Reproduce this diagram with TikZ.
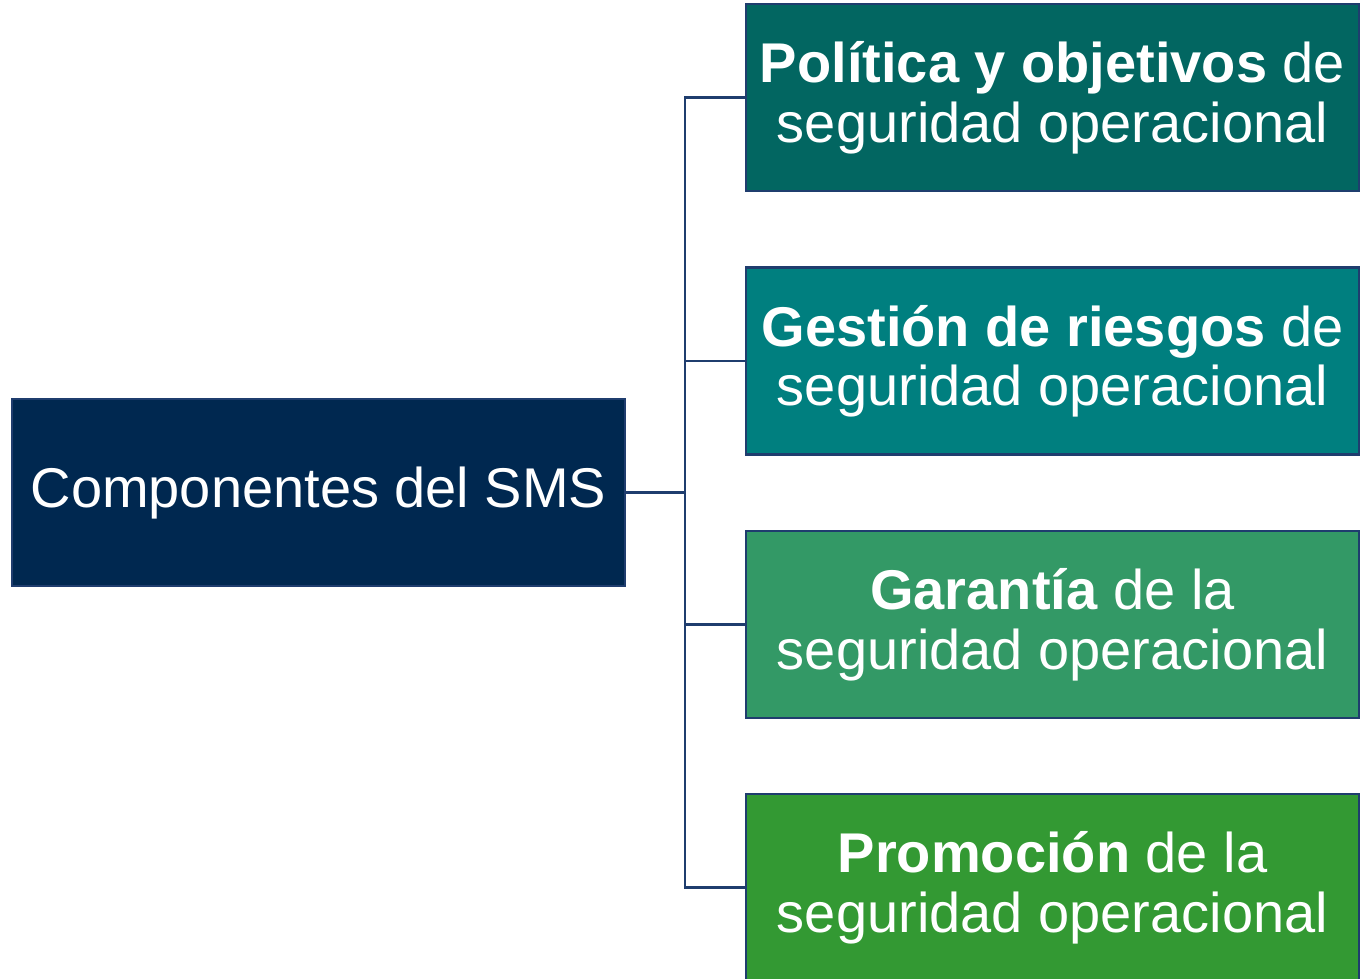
\documentclass[tikz,border=0pt]{standalone}
\usepackage{fontspec}
\setmainfont{Liberation Sans}
\definecolor{navy}{HTML}{002850}
\definecolor{edge}{HTML}{1F3D6E}
\definecolor{cA}{HTML}{026661}
\definecolor{cB}{HTML}{007F7F}
\definecolor{cC}{HTML}{339966}
\definecolor{cD}{HTML}{339933}
\newcommand\boxtext[1]{\raisebox{-2.4pt}[\height][\depth]{\begin{tabular}{@{}c@{}}#1\end{tabular}}}
\tikzset{
  box/.style={draw=edge, line width=2.2pt, text=white, minimum width=459.75pt, minimum height=140.25pt,
    inner sep=0pt, align=center, font=\fontsize{42}{44.5}\selectfont},
  conn/.style={draw=edge, line width=2.2pt}
}
\begin{document}
\begin{tikzpicture}[x=0.75pt,y=-0.75pt]
\useasboundingbox (0,0) rectangle (1369,978);
\clip (0,0) rectangle (1369,978);
\node[box, fill=navy] (L) at (318.5,492.5) {\boxtext{Componentes del SMS}};
\node[box, fill=cA] (B1) at (1052.5,97.5) {\boxtext{\textbf{Política y objetivos} de\\seguridad operacional}};
\node[box, fill=cB] (B2) at (1052.5,361) {\boxtext{\textbf{Gestión de riesgos} de\\seguridad operacional}};
\node[box, fill=cC] (B3) at (1052.5,624.5) {\boxtext{\textbf{Garantía} de la\\seguridad operacional}};
\node[box, fill=cD] (B4) at (1052.5,887.5) {\boxtext{\textbf{Promoción} de la\\seguridad operacional}};
\coordinate (j) at (685,492.5);
\draw[conn] (L.east) -- (j);
\draw[conn] (B1.west) -- (B1.west -| j) -- (B4.west -| j) -- (B4.west);
\draw[conn] (B2.west) -- (B2.west -| j);
\draw[conn] (B3.west) -- (B3.west -| j);
\end{tikzpicture}
\end{document}
